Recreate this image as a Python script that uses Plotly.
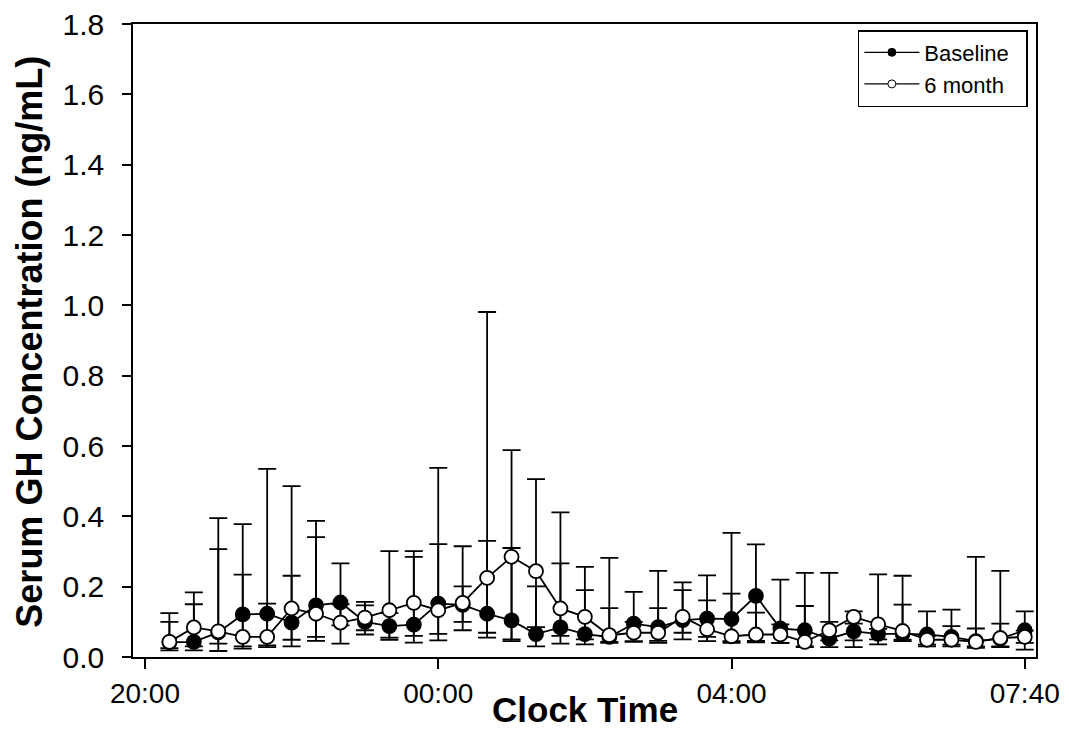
import plotly.graph_objects as go

# sample index 1..36 (20-min samples); tick labels at index 0, 12, 24, 36
sample_idx = list(range(1, 37))
tick_pos = [0, 12, 24, 36]
tick_text = ["20:00", "00:00", "04:00", "07:40"]
y_ticks = [0.0, 0.2, 0.4, 0.6, 0.8, 1.0, 1.2, 1.4, 1.6, 1.8]

baseline_mean = [0.042, 0.043, 0.070, 0.121, 0.123, 0.098, 0.147, 0.155, 0.100, 0.088,
                 0.092, 0.152, 0.148, 0.123, 0.104, 0.065, 0.084, 0.065, 0.057, 0.095,
                 0.085, 0.105, 0.109, 0.108, 0.174, 0.081, 0.076, 0.052, 0.073, 0.066,
                 0.066, 0.064, 0.057, 0.045, 0.052, 0.076]
baseline_upper = [0.100, 0.150, 0.307, 0.378, 0.535, 0.231, 0.387, 0.266, 0.147, 0.125,
                  0.285, 0.538, 0.201, 0.330, 0.310, 0.201, 0.266, 0.190, 0.139, 0.185,
                  0.245, 0.190, 0.232, 0.353, 0.320, 0.220, 0.239, 0.100, 0.095, 0.080,
                  0.149, 0.130, 0.135, 0.081, 0.095, 0.130]
baseline_lower = [0.019, 0.019, 0.017, 0.030, 0.028, 0.030, 0.057, 0.090, 0.064, 0.049,
                  0.041, 0.047, 0.076, 0.055, 0.045, 0.030, 0.038, 0.036, 0.043, 0.043,
                  0.046, 0.050, 0.057, 0.045, 0.046, 0.040, 0.030, 0.028, 0.028, 0.036,
                  0.049, 0.030, 0.030, 0.026, 0.028, 0.040]

month6_mean = [0.043, 0.084, 0.073, 0.057, 0.057, 0.138, 0.123, 0.098, 0.112, 0.133,
               0.154, 0.133, 0.154, 0.225, 0.285, 0.244, 0.138, 0.114, 0.062, 0.069,
               0.069, 0.114, 0.079, 0.059, 0.064, 0.064, 0.043, 0.076, 0.114, 0.093,
               0.074, 0.049, 0.049, 0.043, 0.054, 0.057]
month6_upper = [0.125, 0.184, 0.395, 0.234, 0.152, 0.486, 0.341, 0.150, 0.157, 0.301,
                0.301, 0.321, 0.315, 0.981, 0.588, 0.506, 0.411, 0.256, 0.282, 0.100,
                0.139, 0.212, 0.161, 0.180, 0.126, 0.093, 0.145, 0.239, 0.130, 0.235,
                0.231, 0.060, 0.088, 0.285, 0.245, 0.075]
month6_lower = [0.025, 0.030, 0.038, 0.024, 0.033, 0.049, 0.046, 0.038, 0.076, 0.055,
                0.060, 0.066, 0.100, 0.069, 0.050, 0.085, 0.060, 0.050, 0.040, 0.045,
                0.040, 0.069, 0.045, 0.040, 0.042, 0.040, 0.028, 0.047, 0.047, 0.050,
                0.045, 0.035, 0.035, 0.030, 0.030, 0.021]

FONT = "Liberation Sans, Arial, sans-serif"
LW = 1.8


def err(mean, up, lo):
    return dict(type="data", symmetric=False,
                array=[u - m for u, m in zip(up, mean)],
                arrayminus=[m - l for m, l in zip(mean, lo)],
                color="black", thickness=LW, width=9)


fig = go.Figure()
fig.add_trace(go.Scatter(
    x=sample_idx, y=baseline_mean, mode="lines+markers", showlegend=False,
    line=dict(color="black", width=LW),
    marker=dict(symbol="circle", size=14, color="black", line=dict(color="black", width=LW)),
    error_y=err(baseline_mean, baseline_upper, baseline_lower)))
fig.add_trace(go.Scatter(
    x=sample_idx, y=month6_mean, mode="lines+markers", showlegend=False,
    line=dict(color="black", width=LW),
    marker=dict(symbol="circle", size=14, color="white", line=dict(color="black", width=LW)),
    error_y=err(month6_mean, month6_upper, month6_lower)))

# legend entries
fig.add_trace(go.Scatter(
    x=[None], y=[None], mode="lines+markers", name="Baseline\u00a0\u00a0",
    line=dict(color="black", width=1.2),
    marker=dict(symbol="circle", size=8, color="black", line=dict(color="black", width=1))))
fig.add_trace(go.Scatter(
    x=[None], y=[None], mode="lines+markers", name="6 month",
    line=dict(color="black", width=1.2),
    marker=dict(symbol="circle", size=8, color="white", line=dict(color="black", width=1))))

fig.update_layout(
    width=1069, height=735,
    margin=dict(l=133, r=33, t=24, b=78, autoexpand=False),
    paper_bgcolor="white", plot_bgcolor="white",
    font=dict(family=FONT, color="black"),
    showlegend=True,
    legend=dict(x=0.991, y=0.9905, xanchor="right", yanchor="top",
                bgcolor="white", bordercolor="black", borderwidth=1.5,
                font=dict(family=FONT, size=22, color="black"),
                tracegroupgap=0, itemwidth=55),
    xaxis=dict(range=[-0.49, 36.46], tickmode="array", tickvals=tick_pos, ticktext=tick_text,
               automargin=False, ticklabeloverflow="allow",
               showgrid=False, zeroline=False, showline=True, mirror=True,
               linecolor="black", linewidth=1.5, ticks="outside", ticklen=10,
               tickwidth=1.5, tickcolor="black", ticklabelstandoff=1,
               tickfont=dict(family=FONT, size=28, color="black")),
    yaxis=dict(range=[0, 1.8], tickmode="array", tickvals=y_ticks, tickformat=".1f",
               automargin=False, ticklabeloverflow="allow",
               showgrid=False, zeroline=False, showline=True, mirror=True,
               linecolor="black", linewidth=1.5, ticks="outside", ticklen=9,
               tickwidth=1.5, tickcolor="black", ticklabelstandoff=12,
               tickfont=dict(family=FONT, size=30, color="black")),
    annotations=[
        dict(text="<b>Serum GH Concentration (ng/mL)</b>", xref="paper", yref="paper",
             x=-0.115, y=0.4984, xanchor="center", yanchor="middle", textangle=-90,
             showarrow=False, font=dict(family=FONT, size=36, color="black")),
        dict(text="<b>Clock Time</b>", xref="paper", yref="paper",
             x=0.5006, y=-0.083, xanchor="center", yanchor="middle",
             showarrow=False, font=dict(family=FONT, size=35, color="black")),
    ],
)

# remove the default 8px body margin so the 1069x735 figure fills the window
fig.write_html("out.html", config={"displayModeBar": False},
               post_script="document.body.style.margin='0px';")
